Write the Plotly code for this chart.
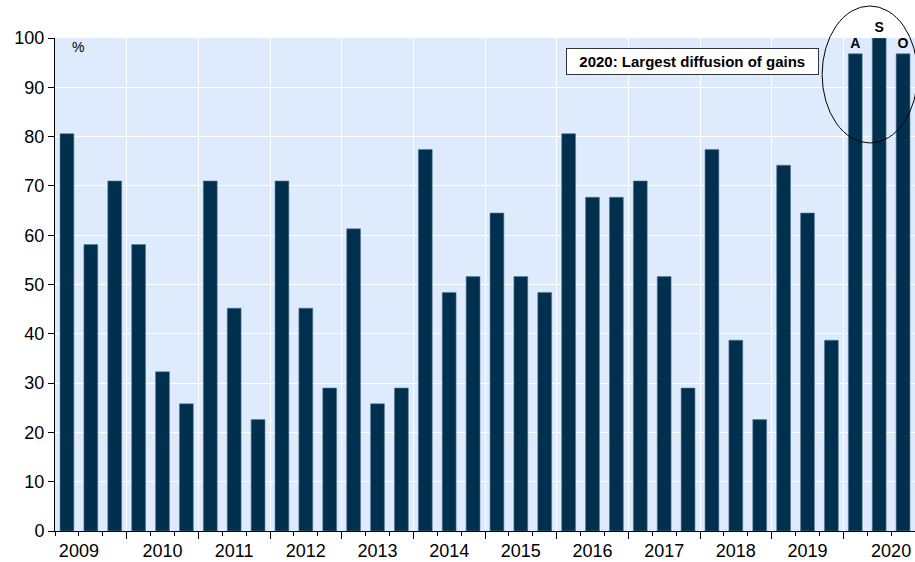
import plotly.graph_objects as go

# Diffusion index (% of components with gains), 36 observations
values = [80.6, 58.1, 71.0, 58.1, 32.3, 25.8, 71.0, 45.2, 22.6, 71.0,
          45.2, 29.0, 61.3, 25.8, 29.0, 77.4, 48.4, 51.6, 64.5, 51.6,
          48.4, 80.6, 67.7, 67.7, 71.0, 51.6, 29.0, 77.4, 38.7, 22.6,
          74.2, 64.5, 38.7, 96.8, 100.0, 96.8]
bar_labels = [""] * 33 + ["A", "S", "O"]
years = ["2009", "2010", "2011", "2012", "2013", "2014", "2015", "2016",
         "2017", "2018", "2019", "2020"]
year_label_pos = [0.5, 4, 7, 10, 13, 16, 19, 22, 25, 28, 31, 34.5]
year_bounds = [2.5, 5.5, 8.5, 11.5, 14.5, 17.5, 20.5, 23.5, 26.5, 29.5, 32.5]
obs_bounds = [i + 0.5 for i in range(-1, 36)]

FONT = "Liberation Sans, Arial, sans-serif"
xpos = list(range(len(values)))

fig = go.Figure()
fig.add_trace(go.Bar(
    x=xpos, y=values, width=0.58,
    marker=dict(color="#00304D", line=dict(color="#5C7C96", width=0.6)),
    text=bar_labels, textposition="outside", cliponaxis=False,
    constraintext="none",
    textfont=dict(family=FONT, size=14, color="#000000", weight="bold"),
    showlegend=False, hoverinfo="x+y",
))
# helper empty trace so the overlay axis (year boundaries) is drawn
fig.add_trace(go.Scatter(x=[None], y=[None], xaxis="x2", yaxis="y",
                         showlegend=False, hoverinfo="skip"))

fig.update_layout(
    width=915, height=562,
    margin=dict(l=55, r=0, t=38, b=31, autoexpand=False),
    paper_bgcolor="white", plot_bgcolor="#DEEBFC",
    font=dict(family=FONT, color="#000000"),
    bargap=0.4,
    xaxis=dict(
        range=[-0.5, 35.5], tickmode="array", tickvals=year_label_pos,
        ticktext=years, ticks="", showgrid=False, zeroline=False,
        showline=True, linecolor="black", linewidth=1, automargin=False,
        tickfont=dict(size=18, family=FONT, color="#000000"),
        ticklabelstandoff=3,
        minor=dict(tickmode="array", tickvals=obs_bounds, ticks="outside",
                   ticklen=4, tickcolor="black", tickwidth=1, showgrid=False),
    ),
    xaxis2=dict(
        range=[-0.5, 35.5], overlaying="x", anchor="y", side="bottom",
        tickmode="array", tickvals=year_bounds, automargin=False,
        ticktext=[""] * len(year_bounds), ticks="outside", ticklen=7,
        tickcolor="black", tickwidth=1, showgrid=True, gridcolor="white",
        gridwidth=1, zeroline=False, showline=False,
    ),
    yaxis=dict(
        range=[0, 100], tickmode="linear", tick0=0, dtick=10,
        ticks="outside", ticklen=6, tickcolor="black", tickwidth=1,
        showline=True, linecolor="black", linewidth=1, automargin=False,
        showgrid=True, gridcolor="white", gridwidth=1, zeroline=False,
        tickfont=dict(size=18, family=FONT, color="#000000"),
    ),
    annotations=[
        dict(text="%", xref="paper", yref="paper", x=0.027, y=0.982,
             xanchor="center", yanchor="middle", showarrow=False,
             font=dict(size=14, family=FONT, color="#000000")),
        dict(text="<b>&nbsp;&nbsp;2020: Largest diffusion of gains&nbsp;&nbsp;</b>",
             xref="paper", yref="paper", x=0.741, y=0.953, xanchor="center",
             yanchor="middle", showarrow=False, bgcolor="white",
             bordercolor="#333333", borderwidth=1, borderpad=4,
             font=dict(size=15, family=FONT, color="#000000")),
    ],
    shapes=[
        dict(type="circle", xref="paper", yref="paper",
             x0=0.892, x1=1.003, y0=0.787, y1=1.065,
             line=dict(color="black", width=1), layer="above"),
    ],
)

fig.write_html("out.html",
               config={"displayModeBar": False},
               post_script="document.body.style.margin='0';"
                           "document.body.style.overflow='hidden';")
